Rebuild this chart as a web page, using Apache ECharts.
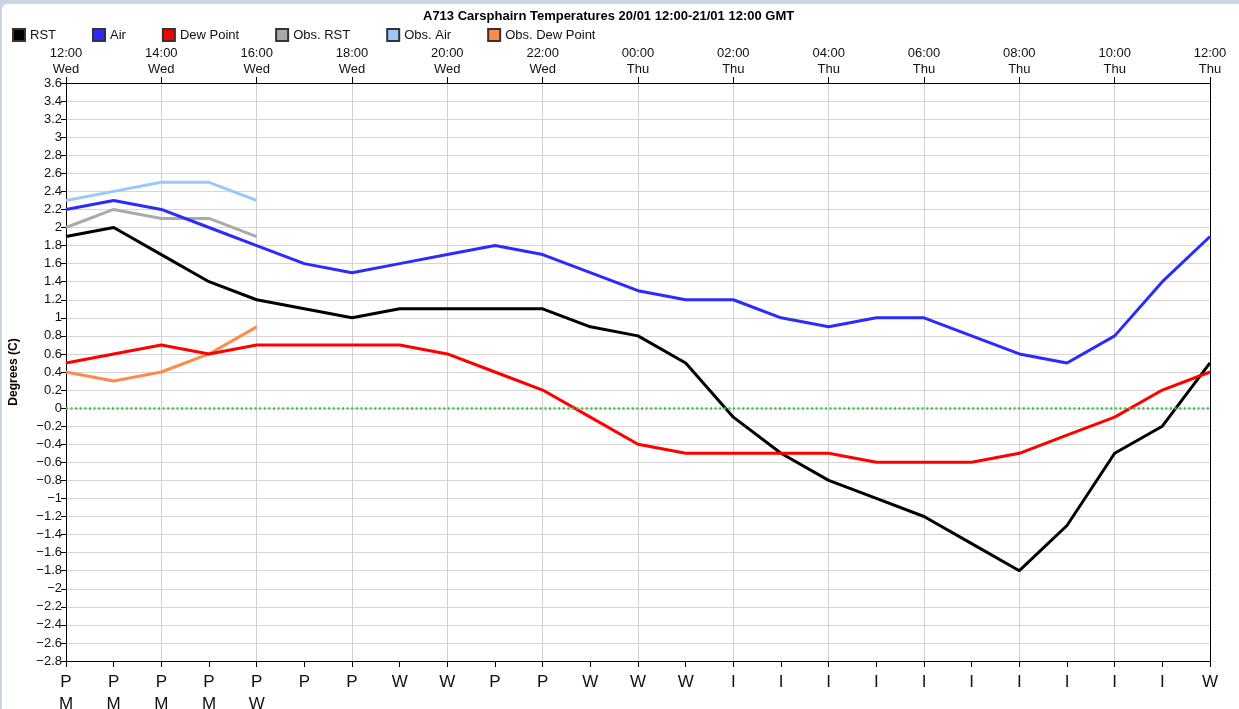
<!DOCTYPE html>
<html>
<head>
<meta charset="utf-8">
<script src="https://cdn.jsdelivr.net/npm/echarts@6/dist/echarts.min.js"></script>
<style>
  html, body { margin: 0; padding: 0; background: #c9d6e3; }
  #frame { position: absolute; left: 2px; top: 4px; width: 1237px; height: 705px; background: #fff; border-top-left-radius: 6px; overflow: hidden; }
  #chart { position: absolute; left: -2px; top: -4px; width: 1239px; height: 709px; }
</style>
</head>
<body>
<div id="frame"><div id="chart"></div></div>
<script>
// ---- data ----
const hours = ['12:00','13:00','14:00','15:00','16:00','17:00','18:00','19:00','20:00','21:00','22:00','23:00',
               '00:00','01:00','02:00','03:00','04:00','05:00','06:00','07:00','08:00','09:00','10:00','11:00','12:00'];
const days = ['Wed','Wed','Wed','Wed','Wed','Wed','Wed','Wed','Wed','Wed','Wed','Wed',
              'Thu','Thu','Thu','Thu','Thu','Thu','Thu','Thu','Thu','Thu','Thu','Thu','Thu'];
const conditions = ['PM','PM','PM','PM','PW','P','P','W','W','P','P','W','W','W',
                    'I','I','I','I','I','I','I','I','I','I','W'];

const rst      = [1.9, 2.0, 1.7, 1.4, 1.2, 1.1, 1.0, 1.1, 1.1, 1.1, 1.1, 0.9, 0.8, 0.5, -0.1, -0.5, -0.8, -1.0, -1.2, -1.5, -1.8, -1.3, -0.5, -0.2, 0.5];
const air      = [2.2, 2.3, 2.2, 2.0, 1.8, 1.6, 1.5, 1.6, 1.7, 1.8, 1.7, 1.5, 1.3, 1.2, 1.2, 1.0, 0.9, 1.0, 1.0, 0.8, 0.6, 0.5, 0.8, 1.4, 1.9];
const dewPoint = [0.5, 0.6, 0.7, 0.6, 0.7, 0.7, 0.7, 0.7, 0.6, 0.4, 0.2, -0.1, -0.4, -0.5, -0.5, -0.5, -0.5, -0.6, -0.6, -0.6, -0.5, -0.3, -0.1, 0.2, 0.4];
const obsRst   = [2.0, 2.2, 2.1, 2.1, 1.9];
const obsAir   = [2.3, 2.4, 2.5, 2.5, 2.3];
const obsDew   = [0.4, 0.3, 0.4, 0.6, 0.9];

const yMin = -2.8, yMax = 3.6, yStep = 0.2;

// ---- chart ----
const FONT = 'Liberation Sans';
const chart = echarts.init(document.getElementById('chart'), null, { renderer: 'canvas' });
const topLabels = hours.map((h, i) => h + '\n' + days[i]);

function line(name, data, color, z) {
  return {
    name, type: 'line', data, xAxisIndex: 0, yAxisIndex: 0, symbol: 'none', z: z || 2,
    lineStyle: { color, width: 3 }, itemStyle: { color, borderColor: '#333', borderWidth: 1 },
    animation: false
  };
}

const series = [
  line('Obs. RST', obsRst, '#aaaaaa', 2),
  line('Obs. Air', obsAir, '#99c9fb', 2),
  line('Obs. Dew Point', obsDew, '#ff8a4c', 2),
  line('RST', rst, '#000000', 3),
  line('Air', air, '#2b2bff', 3),
  line('Dew Point', dewPoint, '#ff0000', 3)
];
series[0].markLine = {
  silent: true, symbol: 'none', label: { show: false },
  lineStyle: { color: '#2fcf3a', type: [2, 2.6], width: 2.5 },
  data: [{ yAxis: 0 }], animation: false
};

chart.setOption({
  animation: false,
  backgroundColor: '#ffffff',
  textStyle: { fontFamily: FONT },
  title: {
    text: 'A713 Carsphairn Temperatures 20/01 12:00-21/01 12:00 GMT',
    left: 418, top: 5,
    textStyle: { fontFamily: FONT, fontSize: 13, fontWeight: 'bold', color: '#000' }
  },
  legend: {
    left: 7, top: 23, itemWidth: 12, itemHeight: 12, itemGap: 36, icon: 'rect',
    data: ['RST', 'Air', 'Dew Point', 'Obs. RST', 'Obs. Air', 'Obs. Dew Point'],
    textStyle: { fontFamily: FONT, fontSize: 13, color: '#111' }
  },
  grid: { left: 66, right: 29, top: 83, bottom: 48, show: false, outerBoundsMode: 'none', containLabel: false },
  xAxis: [
    {
      type: 'category', data: conditions, boundaryGap: false, position: 'bottom',
      axisLine: { onZero: false, lineStyle: { color: '#000', width: 1 } },
      axisTick: { show: true, interval: 0, length: 6, lineStyle: { color: '#000' } },
      axisLabel: {
        interval: 0, margin: 10, fontSize: 17, lineHeight: 22, color: '#111', fontFamily: FONT,
        formatter: v => v.split('').join('\n'), verticalAlign: 'top'
      },
      splitLine: { show: false }
    },
    {
      type: 'category', data: topLabels, boundaryGap: false, position: 'top',
      axisLine: { onZero: false, lineStyle: { color: '#000', width: 1 } },
      axisTick: { show: true, interval: 1, length: 6, lineStyle: { color: '#000' } },
      axisLabel: { interval: 1, margin: 6, fontSize: 13, lineHeight: 16, color: '#111', fontFamily: FONT },
      splitLine: { show: true, interval: 1, lineStyle: { color: '#d0d0d0', width: 1 } }
    }
  ],
  yAxis: [
    {
      type: 'value', min: yMin, max: yMax, interval: yStep, position: 'left',
      name: 'Degrees (C)', nameLocation: 'middle', nameGap: 46,
      nameTextStyle: { fontFamily: FONT, fontSize: 12, fontWeight: 'bold', color: '#000' },
      axisLine: { show: true, onZero: false, lineStyle: { color: '#000' } },
      axisTick: { show: true, length: 5, lineStyle: { color: '#000' } },
      axisLabel: {
        fontSize: 13, color: '#111', margin: 4, fontFamily: FONT,
        formatter: v => String(parseFloat(v.toFixed(1))).replace('-', '\u2212')
      },
      splitLine: { show: true, lineStyle: { color: '#d6d6d6', width: 1 } }
    },
    {
      type: 'value', min: yMin, max: yMax, interval: yStep, position: 'right',
      axisLine: { show: true, onZero: false, lineStyle: { color: '#000' } },
      axisTick: { show: false }, axisLabel: { show: false }, splitLine: { show: false }
    }
  ],
  series
});
</script>
</body>
</html>
